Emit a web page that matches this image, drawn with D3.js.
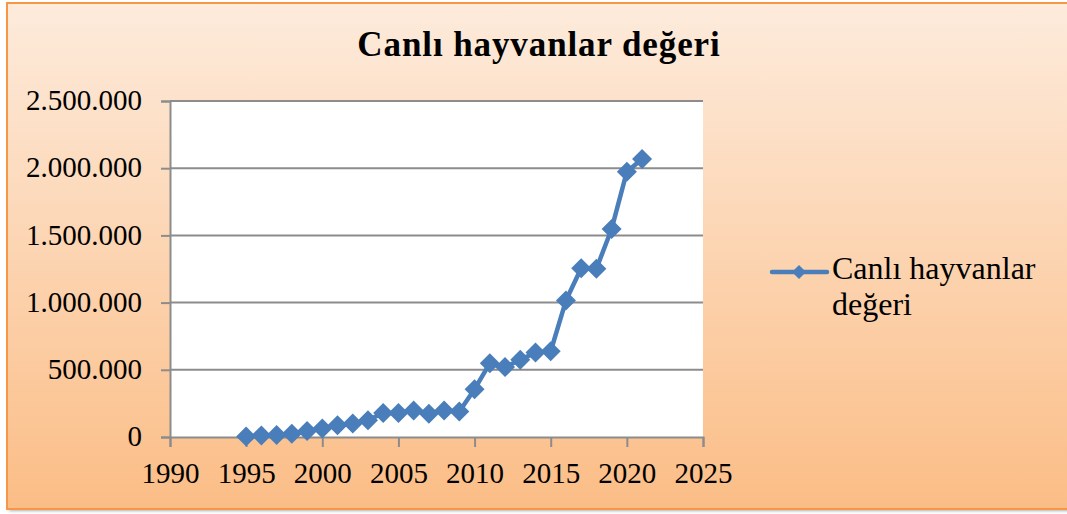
<!DOCTYPE html>
<html>
<head>
<meta charset="utf-8">
<script src="https://cdn.jsdelivr.net/npm/d3@7"></script>
<style>
    body { margin: 0; background: #fff; }
    text { font-family: "Liberation Serif", "DejaVu Serif", serif; fill: #000; }
</style>
</head>
<body>
<div id="chart"></div>
<script>

// data
let years = [1995, 1996, 1997, 1998, 1999, 2000, 2001, 2002, 2003, 2004, 2005, 2006, 2007, 2008,
             2009, 2010, 2011, 2012, 2013, 2014, 2015, 2016, 2017, 2018, 2019, 2020, 2021]

let values = [3000, 12000, 14000, 25000, 45000, 63000, 87000, 100000, 124000, 178000, 178000, 198000,
              173000, 198000, 190000, 356000, 548000, 520000, 575000, 628000, 638000, 1015000,
              1255000, 1252000, 1548000, 1974000, 2068000]

let xTicks = [1990, 1995, 2000, 2005, 2010, 2015, 2020, 2025]

let yTicks = [0, 500000, 1000000, 1500000, 2000000, 2500000]

let title = 'Canlı hayvanlar değeri'
let seriesName = ['Canlı hayvanlar', 'değeri']

let W = 1067, H = 514

let svg = d3.select('#chart').append('svg')
    .attr('width', W)
    .attr('height', H)

let defs = svg.append('defs')

let grad = defs.append('linearGradient')
    .attr('id', 'bg')
    .attr('x1', 0).attr('y1', 0)
    .attr('x2', 0).attr('y2', 1)
grad.append('stop').attr('offset', '0%').attr('stop-color', '#fdebdc')
grad.append('stop').attr('offset', '100%').attr('stop-color', '#fbbd86')

let blur = defs.append('filter').attr('id', 'shadow')
blur.append('feGaussianBlur').attr('stdDeviation', 1.5)

// frame shadow + frame
svg.append('rect')
    .attr('x', 9).attr('y', 6)
    .attr('width', W).attr('height', 505)
    .attr('fill', '#b0b0b0')
    .attr('filter', 'url(#shadow)')

svg.append('rect')
    .attr('x', 7).attr('y', 3)
    .attr('width', W + 10).attr('height', 506)
    .attr('fill', 'url(#bg)')
    .attr('stroke', '#f79646')
    .attr('stroke-width', 2)

// title
svg.append('text')
    .attr('x', 539)
    .attr('y', 56)
    .attr('text-anchor', 'middle')
    .attr('font-size', 35)
    .attr('font-weight', 'bold')
    .attr('letter-spacing', 0.9)
    .text(title)

let margin = {left: 170, top: 101, right: 703, bottom: 437}
let width = margin.right - margin.left,
    height = margin.bottom - margin.top

let g = svg.append('g')
    .attr('transform', 'translate(' + margin.left + ',' + margin.top + ')')

let xScale = d3.scaleLinear().domain([1990, 2025]).range([0, width])
let yScale = d3.scaleLinear().domain([0, 2500000]).range([height, 0])

let trFormat = d3.formatLocale({decimal: ',', thousands: '.', grouping: [3], currency: ['', '']}).format(',')

g.append('rect')
    .attr('width', width)
    .attr('height', height)
    .attr('fill', '#fff')

// gridlines
g.selectAll('.grid')
    .data(yTicks.filter(function(d){ return d > 0 }))
    .enter().append('line')
    .attr('class', 'grid')
    .attr('x1', 0)
    .attr('x2', width)
    .attr('y1', function(d){ return yScale(d) })
    .attr('y2', function(d){ return yScale(d) })
    .attr('stroke', '#8c8c8c')
    .attr('stroke-width', 2)

let yAxis = g.append('g')
    .attr('class', 'axis axis--y')
    .call(d3.axisLeft(yScale).tickValues(yTicks).tickFormat(trFormat).tickSize(9).tickPadding(19))

let xAxis = g.append('g')
    .attr('class', 'axis axis--x')
    .attr('transform', 'translate(0,' + height + ')')
    .call(d3.axisBottom(xScale).tickValues(xTicks).tickFormat(d3.format('d')).tickSize(10))

g.selectAll('.axis').attr('font-family', null)
g.selectAll('.axis').select('.domain')
    .attr('stroke', '#8c8c8c')
    .attr('stroke-width', 2)
g.selectAll('.axis').selectAll('line')
    .attr('stroke', '#8c8c8c')
    .attr('stroke-width', 2)
g.selectAll('.axis').selectAll('text')
    .attr('font-size', 29)
    .attr('fill', '#000')

yAxis.selectAll('text').attr('dy', '0.3em')
xAxis.selectAll('text').attr('y', 46).attr('dy', 0)

// series
let pts = years.map(function(y, i){ return {year: y, value: values[i]} })

g.append('path')
    .datum(pts)
    .attr('fill', 'none')
    .attr('stroke', '#4a7ebb')
    .attr('stroke-width', 4.5)
    .attr('stroke-linejoin', 'round')
    .attr('d', d3.line()
        .x(function(d){ return xScale(d.year) })
        .y(function(d){ return yScale(d.value) }))

let diamond = 'M0,-10L10,0L0,10L-10,0Z'

g.selectAll('.dot')
    .data(pts)
    .enter().append('path')
    .attr('class', 'dot')
    .attr('d', diamond)
    .attr('transform', function(d){ return 'translate(' + xScale(d.year) + ',' + yScale(d.value) + ')' })
    .attr('fill', '#4a7ebb')

// legend
let legend = svg.append('g')
    .attr('transform', 'translate(772,272)')

legend.append('line')
    .attr('x1', 0).attr('x2', 55)
    .attr('y1', 0).attr('y2', 0)
    .attr('stroke', '#4a7ebb')
    .attr('stroke-width', 4.5)
    .attr('stroke-linecap', 'round')

legend.append('path')
    .attr('d', 'M0,-7L7,0L0,7L-7,0Z')
    .attr('transform', 'translate(27,0)')
    .attr('fill', '#4a7ebb')

legend.selectAll('.ltext')
    .data(seriesName)
    .enter().append('text')
    .attr('class', 'ltext')
    .attr('x', 60)
    .attr('y', function(d, i){ return 7 + i * 36 })
    .attr('font-size', 32)
    .text(function(d){ return d })

</script>
</body>
</html>
